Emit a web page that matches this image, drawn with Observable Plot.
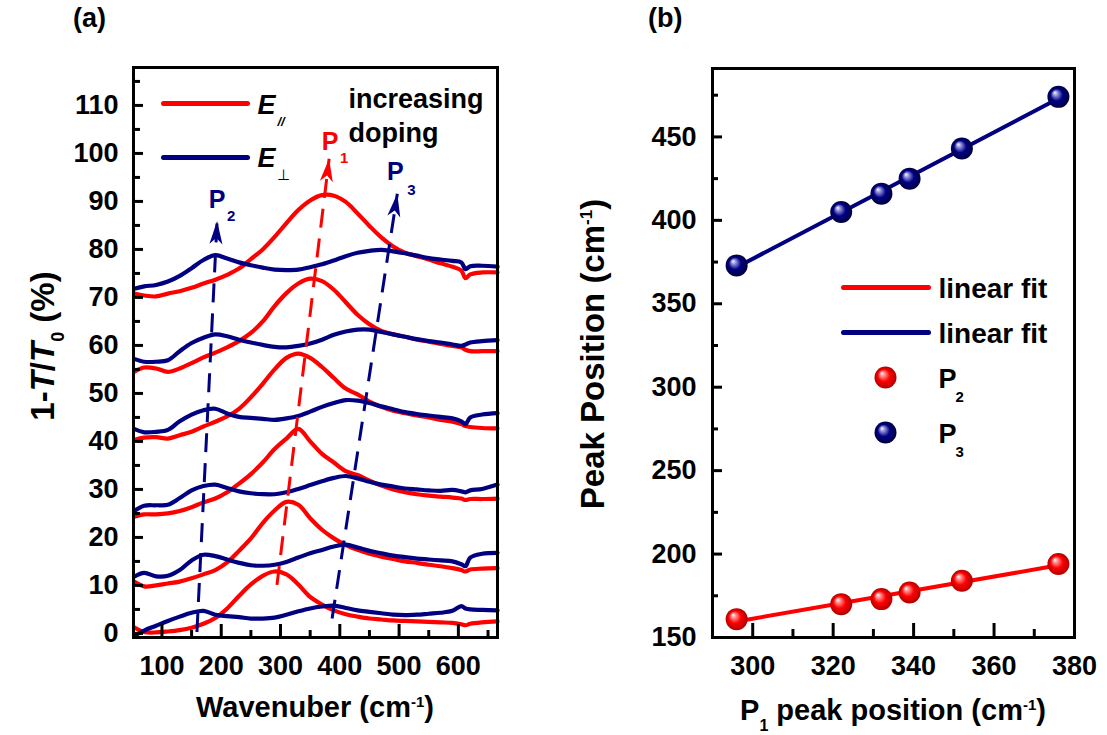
<!DOCTYPE html>
<html>
<head>
<meta charset="utf-8">
<script src="https://cdn.jsdelivr.net/npm/d3@7"></script>
<script src="https://cdn.jsdelivr.net/npm/@observablehq/plot@0.6"></script>
<style>
  html, body { margin: 0; padding: 0; background: #fff; }
  #figure { position: relative; width: 1107px; height: 735px; overflow: hidden; background: #fff; }
  #figure > svg { position: absolute; top: 0; max-width: none; }
</style>
</head>
<body>
<div id="figure"></div>
<script>
const FONT = '"Liberation Sans", Arial, Helvetica, sans-serif';
const RED = "#ff0000";
const NAVY = "#000080";

// ---- Panel (a): transmission spectra, six doping levels, two polarizations ----
const wavenumber = [53, 70, 90, 110, 130, 150, 170, 190, 210, 230, 250, 270, 290, 310, 330, 350,
  370, 390, 410, 430, 450, 470, 490, 510, 530, 550, 570, 590, 605, 612, 620, 640, 666];

// E parallel (red), lowest to highest doping
const par1 = [1.3, 0.3, 0.2, 0.4, 0.7, 1.2, 2.0, 3.2, 5.2, 7.8, 10.2, 12.0, 12.9, 12.3, 10.2, 7.6,
  6.0, 4.8, 4.0, 3.5, 3.1, 2.9, 2.7, 2.6, 2.5, 2.4, 2.3, 2.2, 1.9, 1.7, 2.0, 2.3, 2.5];
const par2 = [10.8, 9.8, 10.0, 10.4, 10.8, 11.5, 12.3, 13.2, 14.8, 17.2, 19.8, 23.0, 25.6, 27.4, 26.8, 24.0,
  21.6, 19.8, 18.4, 17.4, 16.6, 16.0, 15.5, 15.0, 14.7, 14.3, 14.0, 13.6, 13.2, 12.9, 13.3, 13.5, 13.6];
const par3 = [24.3, 24.8, 24.8, 25.0, 25.5, 26.3, 27.3, 28.1, 29.4, 31.2, 33.2, 35.6, 38.4, 40.6, 42.6, 40.0,
  37.4, 35.6, 33.8, 33.0, 31.8, 30.8, 30.0, 29.4, 29.0, 28.7, 28.5, 28.3, 28.1, 27.8, 28.0, 28.0, 28.1];
const par4 = [40.3, 40.8, 40.9, 40.6, 41.3, 42.0, 43.1, 44.1, 45.2, 46.8, 49.2, 52.0, 55.0, 57.4, 58.3, 57.4,
  55.5, 53.2, 51.0, 49.8, 48.3, 47.2, 46.4, 45.9, 45.4, 45.0, 44.5, 44.1, 43.6, 43.2, 43.0, 42.8, 42.7];
const par5 = [54.5, 55.4, 55.2, 54.5, 55.2, 56.3, 57.5, 58.5, 59.6, 60.9, 62.6, 65.0, 68.2, 70.9, 72.9, 73.9,
  73.4, 71.6, 69.0, 66.4, 64.4, 63.0, 62.3, 61.8, 61.2, 60.8, 60.3, 59.9, 59.6, 59.1, 58.8, 58.8, 58.8];
const par6 = [70.8, 70.4, 70.2, 70.8, 71.3, 72.0, 72.9, 73.7, 74.7, 76.0, 78.0, 80.0, 82.6, 85.5, 88.2, 90.2,
  91.3, 91.2, 89.9, 87.5, 84.9, 82.5, 80.6, 79.3, 78.6, 77.9, 77.1, 76.4, 75.6, 74.0, 74.8, 75.2, 75.2];

// E perpendicular (navy), lowest to highest doping
const perp1 = [-0.5, 0.6, 1.6, 2.6, 3.5, 4.3, 4.7, 3.9, 3.6, 3.4, 3.1, 3.1, 3.3, 3.9, 4.6, 5.2,
  5.6, 5.8, 5.3, 4.8, 4.5, 4.2, 3.9, 3.8, 3.9, 4.1, 4.3, 4.7, 5.7, 5.2, 5.0, 4.9, 4.8];
const perp2 = [11.8, 12.6, 11.9, 12.0, 13.2, 15.2, 16.4, 16.1, 15.4, 14.7, 14.2, 14.1, 14.3, 14.9, 15.8, 16.7,
  17.4, 18.1, 18.5, 17.9, 17.2, 16.7, 16.2, 15.9, 15.6, 15.4, 15.2, 15.0, 14.4, 14.0, 15.8, 16.6, 16.8];
const perp3 = [25.5, 26.6, 26.7, 26.8, 28.2, 29.8, 30.7, 31.0, 30.3, 29.6, 29.2, 29.0, 29.0, 29.4, 30.1, 30.9,
  31.7, 32.4, 32.8, 32.3, 31.6, 31.0, 30.6, 30.2, 30.0, 29.8, 29.7, 29.9, 29.6, 29.4, 29.8, 30.1, 31.0];
const perp4 = [42.6, 41.9, 42.0, 42.4, 44.2, 45.6, 46.5, 46.8, 45.8, 45.1, 44.9, 44.7, 44.5, 44.8, 45.3, 46.2,
  47.2, 48.0, 48.6, 48.5, 48.0, 47.3, 46.7, 46.1, 45.7, 45.4, 45.1, 44.8, 44.2, 43.6, 45.0, 45.6, 45.9];
const perp5 = [57.2, 56.6, 56.6, 56.9, 58.8, 60.5, 61.6, 62.3, 61.9, 61.2, 60.6, 60.1, 59.7, 59.6, 59.9, 60.4,
  61.2, 62.2, 62.9, 63.3, 63.3, 62.8, 62.3, 61.8, 61.3, 60.9, 60.6, 60.2, 59.9, 60.2, 60.6, 60.9, 61.1];
const perp6 = [71.8, 72.3, 72.6, 73.3, 74.5, 76.1, 77.8, 78.8, 78.1, 77.3, 76.7, 76.2, 75.8, 75.7, 75.8, 76.3,
  76.9, 77.7, 78.6, 79.3, 79.7, 79.9, 79.6, 79.2, 78.7, 78.2, 77.9, 77.6, 77.3, 75.9, 76.5, 76.6, 76.4];

// Peak-tracking guides (wavenumber, value) for P2, P1, P3
const guideName = ["2", "1", "3"];
const guidePol = ["perp", "par", "perp"];
const guideStartW = [159, 294, 387];
const guideStartV = [0.3, 10.1, 3.1];
const guideEndW = [193, 382, 497];
const guideEndV = [85.9, 98.9, 91.6];

const yTicksA = d3.range(0, 111, 10);
const yMinorA = d3.range(5, 116, 10);
const xTicksA = d3.range(100, 601, 100);
const xMinorA = d3.range(150, 651, 100);

// ---- Panel (b): peak positions versus P1 ----
const p1Peak = [296, 322, 332, 339, 352, 376];
const p2Peak = [161, 170, 173, 177, 184, 194];
const p3Peak = [373, 405, 416, 425, 443, 474];

const yTicksB = d3.range(150, 451, 50);
const yMinorB = d3.range(175, 476, 50);
const xTicksB = d3.range(300, 381, 20);
const xMinorB = d3.range(310, 371, 20);

// ---------------------------------------------------------------------------
const polColor = {par: RED, perp: NAVY};
const tidy = (series, pol) => series.flatMap((vals, i) =>
  vals.map((v, j) => ({w: wavenumber[j], v, id: pol + i})));
const parRows = tidy([par1, par2, par3, par4, par5, par6], "par");
const perpRows = tidy([perp1, perp2, perp3, perp4, perp5, perp6], "perp");

const A = {width: 540, height: 735, ml: 133, mr: 43, mt: 67, mb: 98};
const xDomA = [52, 666];
const yDomA = [-0.85, 117.9];
const kx = (A.width - A.ml - A.mr) / (xDomA[1] - xDomA[0]);
const ky = (A.height - A.mt - A.mb) / (yDomA[1] - yDomA[0]);

const guides = guideName.map((name, i) => ({
  name,
  color: polColor[guidePol[i]],
  x1: guideStartW[i], y1: guideStartV[i],
  x2: guideEndW[i], y2: guideEndV[i],
  angle: Math.atan2((guideEndW[i] - guideStartW[i]) * kx, (guideEndV[i] - guideStartV[i]) * ky) * 180 / Math.PI
}));

// filled, notched arrow head with its tip at the origin, pointing up
const arrowHead = {
  draw(ctx) {
    ctx.moveTo(0, 0);
    ctx.lineTo(6.5, 23);
    ctx.lineTo(0, 17);
    ctx.lineTo(-6.5, 23);
    ctx.closePath();
  }
};
const swatchShape = {draw(ctx, l) { ctx.moveTo(0, 0); ctx.lineTo(0, -l); }};

const swatch = (dx, dy, len, color) => Plot.vector([0], {
  x: null, y: null, frameAnchor: "top-left", dx, dy, length: len, rotate: 90,
  anchor: "start", shape: swatchShape, stroke: color, strokeWidth: 5
});
const note = (text, dx, dy, opts = {}) => Plot.text([text], {
  x: null, y: null, text: d => d, frameAnchor: "top-left", dx, dy,
  textAnchor: "start", lineAnchor: "middle", fontWeight: "bold", ...opts
});

const guideLabelOffsets = [
  {p: [0, -21], s: [14, -5]},
  {p: [1, -17], s: [15, -1]},
  {p: [-2, -22], s: [14, -4]}
];

const panelA = Plot.plot({
  width: A.width, height: A.height,
  marginLeft: A.ml, marginRight: A.mr, marginTop: A.mt, marginBottom: A.mb,
  x: {domain: xDomA, label: null},
  y: {domain: yDomA, label: null},
  color: {type: "identity"},
  style: {fontFamily: FONT, fontSize: "27px", fontWeight: "bold", color: "#000", background: "transparent", overflow: "visible"},
  marks: [
    Plot.line(parRows, {x: "w", y: "v", z: "id", stroke: RED, strokeWidth: 4.2, curve: "catmull-rom"}),
    Plot.line(perpRows, {x: "w", y: "v", z: "id", stroke: NAVY, strokeWidth: 4.2, curve: "catmull-rom"}),
    Plot.link(guides, {x1: "x1", y1: "y1", x2: "x2", y2: "y2", stroke: "color", strokeWidth: 3, strokeDasharray: "19,11"}),
    Plot.dot(guides, {x: "x2", y: "y2", symbol: arrowHead, rotate: "angle", fill: "color", r: 1}),
    ...guides.flatMap((g, i) => [
      Plot.text([g], {x: "x2", y: "y2", text: () => "P", fill: "color", fontSize: 25, fontWeight: "bold",
        dx: guideLabelOffsets[i].p[0], dy: guideLabelOffsets[i].p[1]}),
      Plot.text([g], {x: "x2", y: "y2", text: "name", fill: "color", fontSize: 15, fontWeight: "bold",
        dx: guideLabelOffsets[i].s[0], dy: guideLabelOffsets[i].s[1]})
    ]),
    // legend
    swatch(30, 36, 84, RED),
    note("E", 124, 38, {fontSize: 27, fontStyle: "italic"}),
    note("//", 144, 54, {fontSize: 13, fontStyle: "italic"}),
    swatch(30, 90, 84, NAVY),
    note("E", 124, 91, {fontSize: 27, fontStyle: "italic"}),
    note("\u22a5", 143, 108, {fontSize: 15, fontWeight: "normal"}),
    note("increasing", 215, 32, {fontSize: 27}),
    note("doping", 215, 66, {fontSize: 27}),
    // axes: inward ticks, labels outside
    Plot.axisY(yTicksA, {tickSize: -10, fill: "none", strokeWidth: 3}),
    Plot.axisY(yMinorA, {tickSize: -7, fill: "none", strokeWidth: 3}),
    Plot.axisY(yTicksA, {tickSize: 0, tickPadding: 15, fontSize: 27, label: null}),
    Plot.axisX(xTicksA, {tickSize: -13, fill: "none", strokeWidth: 3}),
    Plot.axisX(xMinorA, {tickSize: -7, fill: "none", strokeWidth: 3}),
    Plot.axisX(xTicksA, {tickSize: 0, tickPadding: 18, fontSize: 27, label: null}),
    Plot.frame({strokeWidth: 3})
  ]
});
panelA.style.left = "0px";

const B = {width: 547, height: 735, ml: 152, mr: 33, mt: 68, mb: 98};
const p2Rows = p1Peak.map((x, i) => ({x, y: p2Peak[i]}));
const p3Rows = p1Peak.map((x, i) => ({x, y: p3Peak[i]}));
const ball = (dx, dy, fill) => Plot.dot([0], {x: null, y: null, frameAnchor: "top-left", dx, dy, r: 11, fill});

const panelB = Plot.plot({
  width: B.width, height: B.height,
  marginLeft: B.ml, marginRight: B.mr, marginTop: B.mt, marginBottom: B.mb,
  x: {domain: [290, 380], label: null},
  y: {domain: [150, 491], label: null},
  style: {fontFamily: FONT, fontSize: "27px", fontWeight: "bold", color: "#000", background: "transparent", overflow: "visible"},
  marks: [
    Plot.linearRegressionY(p2Rows, {x: "x", y: "y", stroke: RED, strokeWidth: 4, ci: 0}),
    Plot.linearRegressionY(p3Rows, {x: "x", y: "y", stroke: NAVY, strokeWidth: 4, ci: 0}),
    Plot.dot(p2Rows, {x: "x", y: "y", r: 11, fill: "url(#ballRed)"}),
    Plot.dot(p3Rows, {x: "x", y: "y", r: 11, fill: "url(#ballNavy)"}),
    // legend
    swatch(131, 219, 85, RED),
    note("linear fit", 226, 221, {fontSize: 28}),
    swatch(131, 264, 85, NAVY),
    note("linear fit", 226, 266, {fontSize: 28}),
    ball(173, 309, "url(#ballRed)"),
    note("P", 226, 311, {fontSize: 27}),
    note("2", 243, 329, {fontSize: 15}),
    ball(173, 364, "url(#ballNavy)"),
    note("P", 226, 366, {fontSize: 27}),
    note("3", 243, 384, {fontSize: 15}),
    // axes
    Plot.axisY(yTicksB, {tickSize: -10, fill: "none", strokeWidth: 3}),
    Plot.axisY(yMinorB, {tickSize: -6, fill: "none", strokeWidth: 3}),
    Plot.axisY(yTicksB, {tickSize: 0, tickPadding: 16, fontSize: 27, label: null}),
    Plot.axisX(xTicksB, {tickSize: -14, fill: "none", strokeWidth: 3}),
    Plot.axisX(xMinorB, {tickSize: -8, fill: "none", strokeWidth: 3}),
    Plot.axisX(xTicksB, {tickSize: 0, tickPadding: 18, fontSize: 27, label: null}),
    Plot.frame({strokeWidth: 3})
  ]
});
panelB.style.left = "560px";

// shaded sphere fills for the markers
const defs = d3.select(panelB).insert("defs", ":first-child");
function sphere(id, light, base, dark) {
  const g = defs.append("radialGradient").attr("id", id)
    .attr("cx", "50%").attr("cy", "50%").attr("r", "50%").attr("fx", "33%").attr("fy", "30%");
  g.append("stop").attr("offset", "0%").attr("stop-color", "#ffffff");
  g.append("stop").attr("offset", "18%").attr("stop-color", light);
  g.append("stop").attr("offset", "55%").attr("stop-color", base);
  g.append("stop").attr("offset", "100%").attr("stop-color", dark);
}
sphere("ballRed", "#ff9c9c", "#ff0000", "#b00000");
sphere("ballNavy", "#a0a0e0", "#000088", "#00003c");

const fig = document.getElementById("figure");
fig.appendChild(panelA);
fig.appendChild(panelB);

// panel letters and axis titles
const overlay = d3.select(fig).append("svg")
  .attr("width", 1107).attr("height", 735)
  .style("left", "0px").style("pointer-events", "none")
  .attr("font-family", FONT).attr("font-weight", "bold").attr("fill", "#000");

overlay.append("text").attr("x", 73).attr("y", 27).attr("font-size", 27).text("(a)");
overlay.append("text").attr("x", 648).attr("y", 27).attr("font-size", 27).text("(b)");

function rich(text, parts) {
  parts.forEach(p => {
    const t = text.append("tspan").text(p.t);
    if (p.size) t.attr("font-size", p.size);
    if (p.dy) t.attr("dy", p.dy);
    if (p.italic) t.attr("font-style", "italic");
  });
  return text;
}

rich(overlay.append("text").attr("x", 315).attr("y", 717).attr("font-size", 29).attr("text-anchor", "middle"), [
  {t: "Wavenuber (cm"}, {t: "-1", size: 15, dy: -10}, {t: ")", dy: 10}
]);
rich(overlay.append("text").attr("x", 893).attr("y", 720).attr("font-size", 29).attr("text-anchor", "middle"), [
  {t: "P"}, {t: "1", size: 16, dy: 11}, {t: " peak position (cm", dy: -11}, {t: "-1", size: 15, dy: -10}, {t: ")", dy: 10}
]);
rich(overlay.append("text").attr("transform", "translate(54,346) rotate(-90)").attr("font-size", 33).attr("text-anchor", "middle"), [
  {t: "1-"}, {t: "T", italic: true}, {t: "/"}, {t: "T", italic: true}, {t: "0", size: 18, dy: 10}, {t: " (%)", dy: -10}
]);
rich(overlay.append("text").attr("transform", "translate(604,354) rotate(-90)").attr("font-size", 33).attr("text-anchor", "middle"), [
  {t: "Peak Position (cm"}, {t: "-1", size: 17, dy: -12}, {t: ")", dy: 12}
]);
</script>
</body>
</html>
